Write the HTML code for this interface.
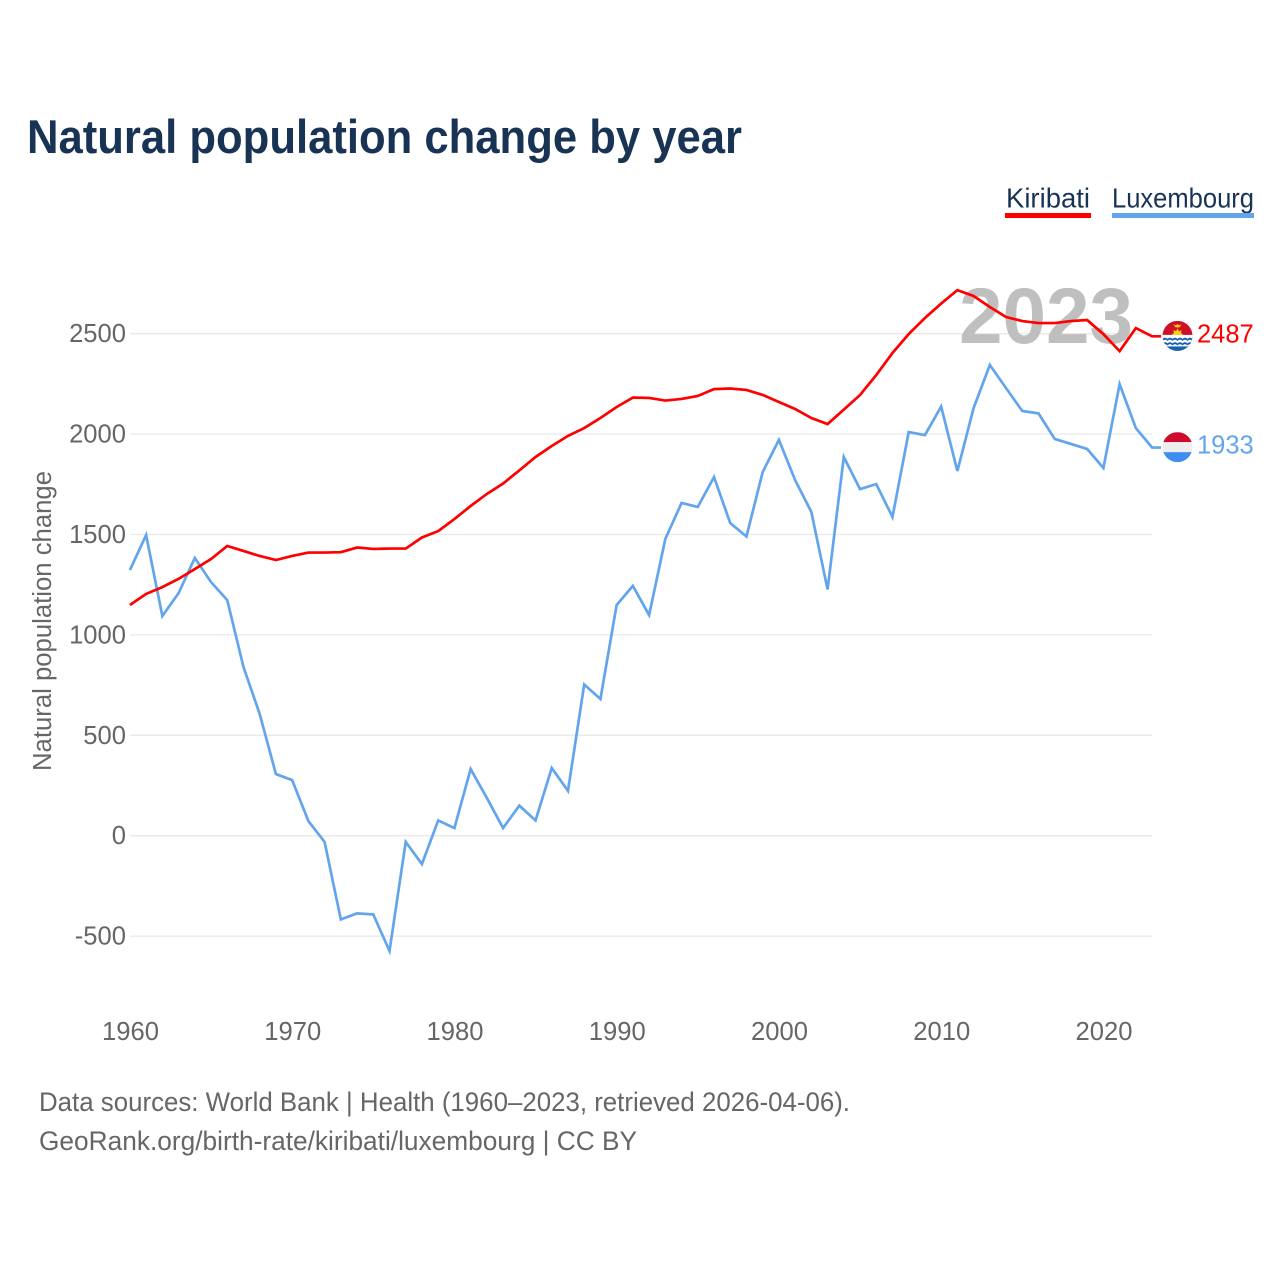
<!DOCTYPE html>
<html lang="en">
<head>
<meta charset="utf-8">
<title>Natural population change by year</title>
<style>
html,body{margin:0;padding:0;background:#fff;width:1280px;height:1280px;overflow:hidden}
svg{display:block}
text{font-family:"Liberation Sans",sans-serif}
</style>
</head>
<body>
<svg id="chart" xmlns="http://www.w3.org/2000/svg" width="1280" height="1280" viewBox="0 0 1280 1280">
  <defs>
    <clipPath id="flag-clip-k"><circle cx="0" cy="0" r="15"/></clipPath>
  </defs>
  <rect x="0" y="0" width="1280" height="1280" fill="#fff"/>
  <text x="27" y="153" font-size="47" font-weight="700" fill="#183354" textLength="715" lengthAdjust="spacingAndGlyphs">Natural population change by year</text>

  <text x="1006" y="207.5" font-size="27.5" fill="#183354" textLength="84" lengthAdjust="spacingAndGlyphs">Kiribati</text>
  <rect x="1005" y="213" width="86" height="5" fill="#ff0000"/>
  <text x="1112" y="207.5" font-size="27.5" fill="#183354" textLength="142" lengthAdjust="spacingAndGlyphs">Luxembourg</text>
  <rect x="1112" y="213" width="142" height="5" fill="#63a5ec"/>

  <g id="grid"></g>
  <g id="y-ticks"></g>
  <g id="x-ticks"></g>

  <text transform="translate(51,621) rotate(-90)" text-anchor="middle" font-size="25.5" fill="#666" textLength="300" lengthAdjust="spacingAndGlyphs">Natural population change</text>

  <text x="1046" y="343" text-anchor="middle" font-size="79" font-weight="700" fill="#bfbfbf" textLength="174" lengthAdjust="spacingAndGlyphs">2023</text>

  <g id="series"></g>

  <g id="flag-kiribati">
    <g clip-path="url(#flag-clip-k)">
      <rect x="-15" y="-15" width="30" height="30" fill="#ce1126"/>
      <path d="M-6-1 L-3.5-3 L-4-6 L-1.5-4.5 L0-7.5 L1.5-4.5 L4-6 L3.5-3 L6-1Z" fill="#fcd116"/>
      <path d="M-4-11.5 L-1.5-10.5 L0-12 L1.5-10.5 L4-11.5 L2-8.5 L-2-8.5Z" fill="#fcd116"/>
      <rect x="-15" y="-1" width="30" height="16" fill="#fff"/>
      <path d="M-15 3 Q-12.5 0.5 -10 3 Q-7.5 0.5 -5 3 Q-2.5 0.5 0 3 Q2.5 0.5 5 3 Q7.5 0.5 10 3 Q12.5 0.5 15 3 L15 5 Q12.5 2.5 10 5 Q7.5 2.5 5 5 Q2.5 2.5 0 5 Q-2.5 2.5 -5 5 Q-7.5 2.5 -10 5 Q-12.5 2.5 -15 5Z" fill="#1261b5"/>
      <path d="M-15 7.5 Q-12.5 5 -10 7.5 Q-7.5 5 -5 7.5 Q-2.5 5 0 7.5 Q2.5 5 5 7.5 Q7.5 5 10 7.5 Q12.5 5 15 7.5 L15 9.5 Q12.5 7 10 9.5 Q7.5 7 5 9.5 Q2.5 7 0 9.5 Q-2.5 7 -5 9.5 Q-7.5 7 -10 9.5 Q-12.5 7 -15 9.5Z" fill="#1261b5"/>
      <rect x="-15" y="10.5" width="30" height="5" fill="#1261b5"/>
    </g>
  </g>
  <g id="flag-luxembourg">
    <g clip-path="url(#flag-clip-k)">
      <rect x="-15" y="-15" width="30" height="10" fill="#cf0a2c"/>
      <rect x="-15" y="-5" width="30" height="10" fill="#eeeeee"/>
      <rect x="-15" y="5" width="30" height="10" fill="#3d8ef0"/>
    </g>
  </g>
  <text id="value-kiribati" x="1197" font-size="25.5" fill="#ff0000"></text>
  <text id="value-luxembourg" x="1197" font-size="25.5" fill="#63a5ec"></text>

  <text x="39" y="1111" font-size="27" fill="#666" textLength="811" lengthAdjust="spacingAndGlyphs">Data sources: World Bank | Health (1960–2023, retrieved 2026-04-06).</text>
  <text x="39" y="1150" font-size="27" fill="#666" textLength="598" lengthAdjust="spacingAndGlyphs">GeoRank.org/birth-rate/kiribati/luxembourg | CC BY</text>
</svg>
<script>
const firstYear = 1960;
const kiribati = [1149,1204,1238,1279,1328,1378,1443,1418,1393,1373,1393,1410,1410,1412,1435,1428,1430,1430,1485,1517,1577,1642,1702,1754,1819,1886,1941,1991,2030,2080,2135,2182,2180,2167,2175,2190,2224,2227,2220,2195,2160,2125,2080,2050,2122,2195,2294,2404,2498,2578,2650,2717,2688,2633,2583,2563,2553,2553,2563,2568,2498,2413,2528,2487];
const luxembourg = [1323,1497,1094,1208,1383,1263,1173,840,606,307,277,73,-31,-417,-387,-392,-574,-31,-141,76,38,332,188,38,150,76,337,223,753,681,1149,1244,1099,1478,1657,1637,1786,1557,1490,1811,1971,1771,1612,1226,1886,1726,1751,1587,2010,1995,2137,1816,2130,2344,2229,2115,2103,1976,1951,1926,1831,2249,2030,1933];
const yTicks = [-500,0,500,1000,1500,2000,2500];
const xTicks = [1960,1970,1980,1990,2000,2010,2020];

const NS = 'http://www.w3.org/2000/svg';
const xScale = function (year) { return 129.9 + (year - 1960) * 16.225; };
const yScale = function (v) { return 835.7 - v * 0.2008; };

const grid = document.getElementById('grid');
const yG = document.getElementById('y-ticks');
const xG = document.getElementById('x-ticks');
const series = document.getElementById('series');

yTicks.forEach(function (t) {
  const line = document.createElementNS(NS, 'line');
  
  
  line.setAttribute('x1', 130);
  line.setAttribute('x2', 1152);
  line.setAttribute('y1', yScale(t));
  line.setAttribute('y2', yScale(t));
  line.setAttribute('stroke', '#e9e9e9');
  line.setAttribute('stroke-width', '1.3');
  grid.appendChild(line);
  const label = document.createElementNS(NS, 'text');
  
  
  label.setAttribute('x', 126);
  label.setAttribute('y', yScale(t) + 8.5);
  label.setAttribute('text-anchor', 'end');
  label.setAttribute('font-size', '25.6');
  label.setAttribute('fill', '#666');
  label.textContent = String(t);
  yG.appendChild(label);
});

xTicks.forEach(function (t) {
  const label = document.createElementNS(NS, 'text');
  
  
  label.setAttribute('x', xScale(t) + 0.6);
  label.setAttribute('y', 1040);
  label.setAttribute('text-anchor', 'middle');
  label.setAttribute('font-size', '25.6');
  label.setAttribute('fill', '#666');
  label.textContent = String(t);
  xG.appendChild(label);
});

function pathFor(values) {
  const pts = values.map(function (v, i) {
    return xScale(firstYear + i).toFixed(2) + ',' + yScale(v).toFixed(2);
  });
  const last = values[values.length - 1];
  const end = xScale(firstYear + values.length - 1) + 9;
  pts.push(end.toFixed(2) + ',' + yScale(last).toFixed(2));
  return pts.join(' ');
}

const luxLine = document.createElementNS(NS, 'polyline');


luxLine.setAttribute('points', pathFor(luxembourg));
luxLine.setAttribute('fill', 'none');
luxLine.setAttribute('stroke', '#63a5ec');
luxLine.setAttribute('stroke-width', '2.7');
series.appendChild(luxLine);

const kirLine = document.createElementNS(NS, 'polyline');


kirLine.setAttribute('points', pathFor(kiribati));
kirLine.setAttribute('fill', 'none');
kirLine.setAttribute('stroke', '#ff0000');
kirLine.setAttribute('stroke-width', '2.7');
series.appendChild(kirLine);

const kLast = kiribati[kiribati.length - 1];
const lLast = luxembourg[luxembourg.length - 1];
document.getElementById('flag-kiribati').setAttribute('transform', 'translate(1177.5,' + (yScale(kLast) - 0.4) + ')');
document.getElementById('flag-luxembourg').setAttribute('transform', 'translate(1177.5,' + (yScale(lLast) - 0.4) + ')');
const kVal = document.getElementById('value-kiribati');
kVal.setAttribute('y', yScale(kLast) + 6);
kVal.textContent = String(kLast);
const lVal = document.getElementById('value-luxembourg');
lVal.setAttribute('y', yScale(lLast) + 6);
lVal.textContent = String(lLast);
</script>
</body>
</html>
